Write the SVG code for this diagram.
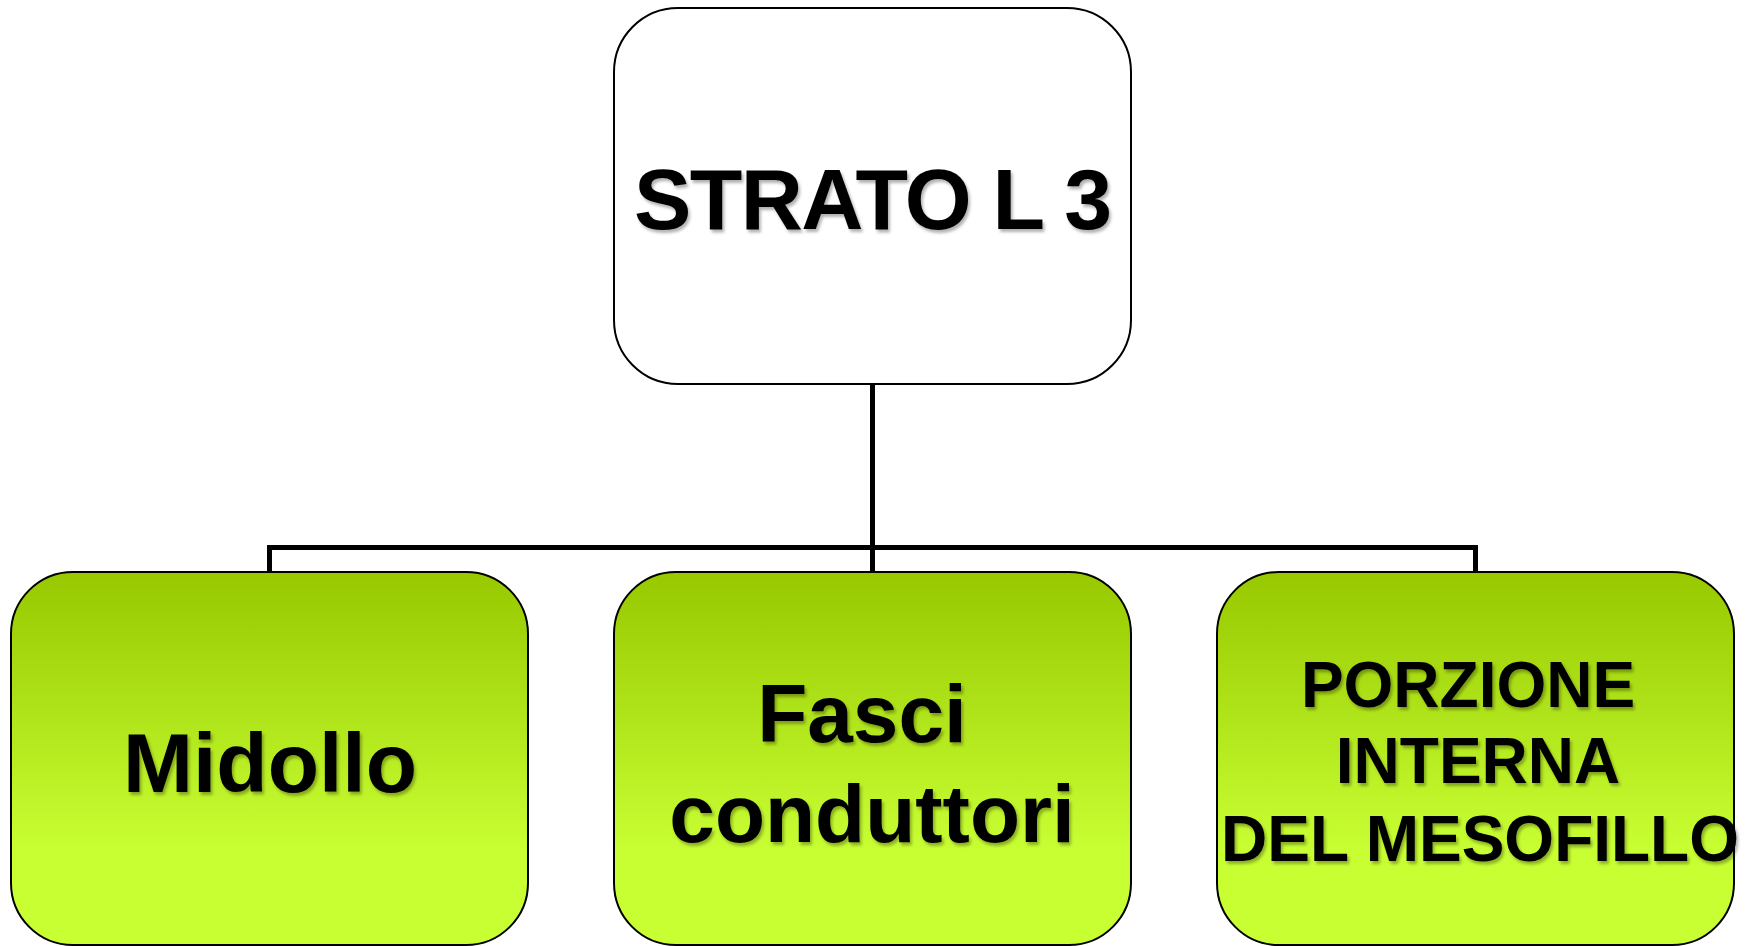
<svg xmlns="http://www.w3.org/2000/svg" width="1748" height="946" viewBox="0 0 1748 946">
<defs>
<linearGradient id="grn" x1="0" y1="0" x2="0" y2="1">
<stop offset="0" stop-color="#97C800"/>
<stop offset="0.75" stop-color="#C8FF33"/>
<stop offset="1" stop-color="#C8FF33"/>
</linearGradient>
<filter id="sh" x="-10%" y="-20%" width="120%" height="150%">
<feDropShadow dx="2" dy="3" stdDeviation="1.5" flood-color="#000" flood-opacity="0.3"/>
</filter>
</defs>
<style>
.box{stroke:#000;stroke-width:2}
.top{fill:#fff}
.g{fill:url(#grn)}
.t{font-family:"Liberation Sans",Arial,sans-serif;font-weight:bold;fill:#000;text-anchor:middle;filter:url(#sh)}
.conn{fill:none;stroke:#000;stroke-width:5}
</style>
<g id="connectors">
<path class="conn" d="M872.5 384 V572"/>
<path class="conn" d="M269.5 572 V547.5 H1475.5 V572"/>
</g>
<g id="node-strato">
<rect class="box top" x="614" y="8" width="517" height="376" rx="64" ry="64"/>
<text class="t" x="873" y="229" font-size="86" textLength="478" lengthAdjust="spacing">STRATO L 3</text>
</g>
<g id="node-midollo">
<rect class="box g" x="11" y="572" width="517" height="373" rx="62" ry="62"/>
<text class="t" x="270" y="792" font-size="84">Midollo</text>
</g>
<g id="node-fasci">
<rect class="box g" x="614" y="572" width="517" height="373" rx="62" ry="62"/>
<text class="t" x="862" y="742" font-size="82">Fasci</text>
<text class="t" x="872" y="842" font-size="82">conduttori</text>
</g>
<g id="node-porzione">
<rect class="box g" x="1217" y="572" width="517" height="373" rx="62" ry="62"/>
<text class="t" x="1468" y="707" font-size="64">PORZIONE</text>
<text class="t" x="1478" y="783" font-size="64">INTERNA</text>
<text class="t" x="1480" y="861" font-size="64">DEL MESOFILLO</text>
</g>
</svg>
